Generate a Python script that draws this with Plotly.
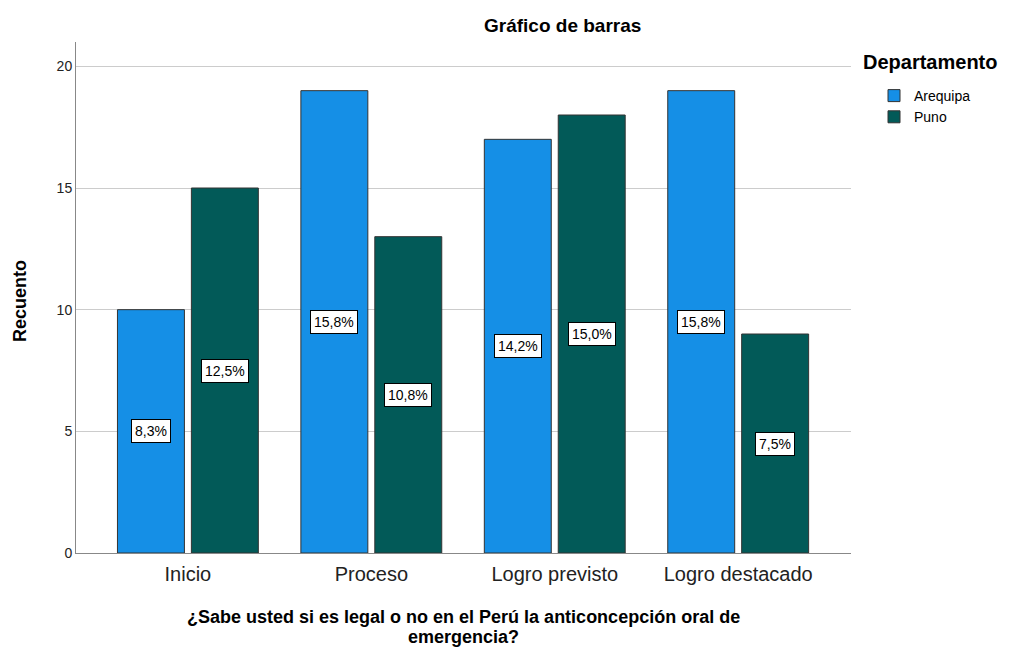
import plotly.graph_objects as go

categories = ["Inicio", "Proceso", "Logro previsto", "Logro destacado"]
arequipa = [10, 19, 17, 19]
puno = [15, 13, 18, 9]
arequipa_pct = ["8,3%", "15,8%", "14,2%", "15,8%"]
puno_pct = ["12,5%", "10,8%", "15,0%", "7,5%"]
y_ticks = [0, 5, 10, 15, 20]

FONT = "Liberation Sans, Arial"
xpos = list(range(len(categories)))
W = 0.365
series = [
    ("Arequipa", arequipa, arequipa_pct, "#158fe6", -0.384),
    ("Puno", puno, puno_pct, "#025a58", 0.019),
]

L, R, T, B = 76, 158, 42, 97
pw = 1009 - L - R
ph = 650 - T - B


def px(xp):
    return (xp - L) / pw


def py(yp):
    return (650 - B - yp) / ph


fig = go.Figure()
annotations = []
for name, vals, pcts, col, off in series:
    fig.add_trace(go.Bar(
        x=xpos, y=vals, name=name, width=W, offset=off,
        marker=dict(color=col, line=dict(color="#333333", width=1)),
    ))
    for xi, v, p in zip(xpos, vals, pcts):
        annotations.append(dict(
            x=xi + off + W / 2, y=v / 2, xref="x", yref="y", text=p,
            showarrow=False, bgcolor="white", bordercolor="black", borderwidth=1,
            borderpad=3, font=dict(family=FONT, size=14, color="black"),
        ))

annotations.append(dict(
    x=px(562), y=py(25), xref="paper", yref="paper", xanchor="center", yanchor="middle",
    text="<b>Gráfico de barras</b>", showarrow=False,
    font=dict(family=FONT, size=19, color="black"),
))
annotations.append(dict(
    x=px(463), y=py(617), xref="paper", yref="paper", xanchor="center", yanchor="middle",
    text="<b>¿Sabe usted si es legal o no en el Perú la anticoncepción oral de</b>", showarrow=False,
    font=dict(family=FONT, size=18, color="black"),
))
annotations.append(dict(
    x=px(463), y=py(637), xref="paper", yref="paper", xanchor="center", yanchor="middle",
    text="<b>emergencia?</b>", showarrow=False,
    font=dict(family=FONT, size=18, color="black"),
))
annotations.append(dict(
    x=px(20), y=py(301), xref="paper", yref="paper", xanchor="center", yanchor="middle",
    text="<b>Recuento</b>", showarrow=False, textangle=-90,
    font=dict(family=FONT, size=18, color="black"),
))
annotations.append(dict(
    x=px(861), y=py(62), xref="paper", yref="paper", xanchor="left", yanchor="middle",
    text="<b>Departamento</b>", showarrow=False,
    font=dict(family=FONT, size=20, color="black"),
))

fig.update_layout(
    width=1009, height=650,
    margin=dict(l=L, r=R, t=T, b=B),
    paper_bgcolor="white", plot_bgcolor="white",
    barmode="overlay",
    annotations=annotations,
    font=dict(family=FONT, color="black"),
    legend=dict(
        x=px(874), y=py(80), xanchor="left", yanchor="top",
        font=dict(size=14), tracegroupgap=0, itemwidth=30,
    ),
    xaxis=dict(
        tickvals=xpos, ticktext=categories, range=[-0.61, 3.615],
        showgrid=False, showline=True, linecolor="#888888", linewidth=1,
        ticks="", tickfont=dict(size=20, color="#222222"), ticklabelstandoff=3,
        zeroline=False,
    ),
    yaxis=dict(
        range=[0, 21], tickvals=y_ticks, showgrid=True, gridcolor="#cccccc",
        showline=True, linecolor="#888888", linewidth=1, ticks="",
        tickfont=dict(size=14, color="#222222"), zeroline=False,
    ),
)

fig.write_html("out.html", post_script="document.body.style.margin='0px';",
               config={"displayModeBar": False})
